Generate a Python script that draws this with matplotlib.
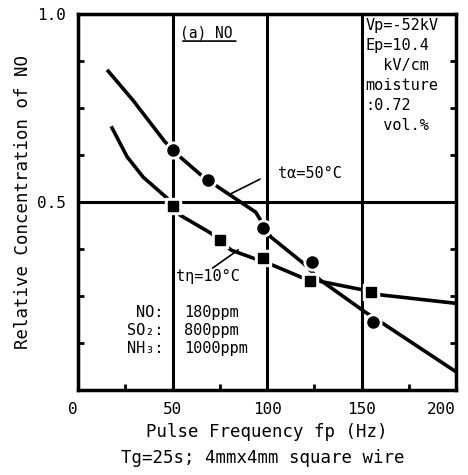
import numpy as np
import matplotlib.pyplot as plt
from matplotlib.ticker import MultipleLocator, FixedLocator

plt.rcParams['font.family'] = ['DejaVu Sans Mono', 'DejaVu Sans']

# markers
hot_x = [50, 69, 98, 124, 156]          # tα=50°C, circles
hot_y = [0.638, 0.559, 0.431, 0.340, 0.181]
cold_x = [50, 75, 98, 123, 155]         # tη=10°C, squares
cold_y = [0.489, 0.399, 0.351, 0.290, 0.261]

# hand drawn fitting curves
hot_curve_x = [16, 29, 46, 54, 65, 69, 94, 98, 102, 119, 128, 152, 161, 201]
hot_curve_y = [0.848, 0.771, 0.660, 0.620, 0.572, 0.557, 0.473, 0.440, 0.407, 0.338, 0.293, 0.207, 0.178, 0.045]
cold_curve_x = [18, 26, 34.5, 47, 54, 70, 81, 103, 119, 151, 160, 199]
cold_curve_y = [0.697, 0.620, 0.566, 0.511, 0.465, 0.418, 0.372, 0.332, 0.298, 0.266, 0.253, 0.231]

x_ticks = [0, 50, 100, 150, 200]
y_ticks = [0.5, 1.0]

gases = ['NO:', 'SO₂:', 'NH₃:']
ppm = ['180ppm', '800ppm', '1000ppm']

fig = plt.figure(figsize=(4.68, 4.75), dpi=100)
ax = fig.add_axes([0.1667, 0.179, 0.8077, 0.7915])

ax.set_xlim(0, 200)
ax.set_ylim(0, 1.0)
ax.xaxis.set_major_locator(FixedLocator(x_ticks))
ax.yaxis.set_major_locator(FixedLocator(y_ticks))
ax.xaxis.set_minor_locator(MultipleLocator(25))
ax.yaxis.set_minor_locator(MultipleLocator(0.125))
ax.set_yticklabels(['0.5', '1.0'])
ax.tick_params(which='major', length=0, labelsize=11.5, pad=9)
ax.tick_params(which='minor', direction='in', length=4, width=2, right=True)
ax.get_xticklabels()[-1].set_horizontalalignment('right')
ax.get_xticklabels()[0].set_horizontalalignment('right')
ax.grid(True, which='major', color='black', lw=2.2)
ax.set_axisbelow(True)
for s in ax.spines.values():
    s.set_linewidth(2.5)

ax.plot(hot_curve_x, hot_curve_y, color='black', lw=2.6, zorder=3)
ax.plot(cold_curve_x, cold_curve_y, color='black', lw=2.6, zorder=3)

# white halo under markers to break the lines like the drawing
ax.plot(hot_x, hot_y, 'o', ms=12, color='white', zorder=4)
ax.plot(cold_x, cold_y, 's', ms=11, color='white', zorder=4)
ax.plot(hot_x, hot_y, 'o', ms=8, color='black', zorder=5)
ax.plot(cold_x, cold_y, 's', ms=7.5, color='black', zorder=5)

ax.text(106, 0.577, 'tα=50°C', fontsize=11, va='center', ha='left')
ax.annotate('', xy=(78.5, 0.516), xytext=(97.6, 0.564),
            arrowprops=dict(arrowstyle='-', lw=1.2, color='black'))
ax.text(52, 0.303, 'tη=10°C', fontsize=11, va='center', ha='left')
ax.annotate('', xy=(86, 0.377), xytext=(70, 0.32),
            arrowprops=dict(arrowstyle='-', lw=1.2, color='black'))

ax.text(54, 0.95, '(a) NO', fontsize=10.5, va='center', ha='left')
ax.annotate('', xy=(54, 0.928), xytext=(85, 0.928),
            arrowprops=dict(arrowstyle='-', lw=1.2, color='black'))

ax.text(152, 0.99, 'Vp=-52kV\nEp=10.4\n  kV/cm\nmoisture\n:0.72\n  vol.%',
        fontsize=11, va='top', ha='left', linespacing=1.42)

for i, (g, p) in enumerate(zip(gases, ppm)):
    yy = 0.207 - i * 0.048
    ax.text(45, yy, g, fontsize=11, va='center', ha='right')
    ax.text(56, yy, p, fontsize=11, va='center', ha='left')

ax.set_xlabel('Pulse Frequency fp (Hz)', fontsize=12.5, labelpad=4)
ax.set_ylabel('Relative Concentration of NO', fontsize=12.5, labelpad=3)
fig.text(0.562, 0.036, 'Tg=25s; 4mmx4mm square wire', fontsize=12.5, ha='center', va='center')

fig.savefig('out.png', dpi=100)
